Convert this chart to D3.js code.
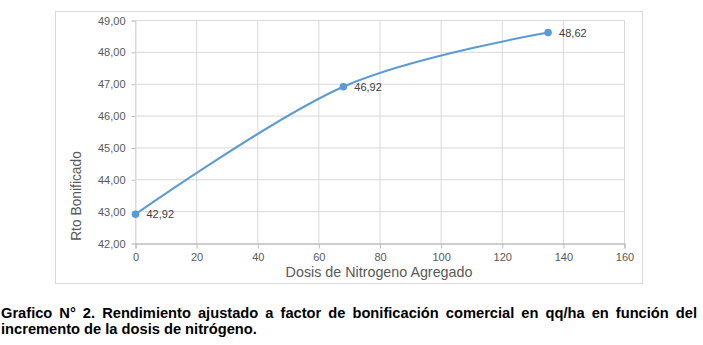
<!DOCTYPE html>
<html>
<head>
<meta charset="utf-8">
<script src="https://cdn.jsdelivr.net/npm/d3@7"></script>
<style>
  html, body { margin: 0; padding: 0; background: #fff; }
  svg { display: block; }
</style>
</head>
<body>
<svg id="chart" width="703" height="345"></svg>
<script>
// Nitrogen dose (kg N/ha) and adjusted yield (qq/ha)
const doses = [0, 68, 135];
const yields = [42.92, 46.92, 48.62];
const pointLabels = ["42,92", "46,92", "48,62"];
const xTicks = [0, 20, 40, 60, 80, 100, 120, 140, 160];
const yTicks = [42, 43, 44, 45, 46, 47, 48, 49];
const xTitle = "Dosis de Nitrogeno Agregado";
const yTitle = "Rto Bonificado";
const captionLines = [
  "Grafico N° 2. Rendimiento ajustado a factor de bonificación comercial en qq/ha en función del",
  "incremento de la dosis de nitrógeno."
];

const svg = d3.select("#chart");
const axisFont = "'Liberation Sans', Arial, sans-serif";
const textGray = "#595959";

// chart frame
svg.append("rect")
  .attr("x", 55.5).attr("y", 11.5)
  .attr("width", 587).attr("height", 272)
  .attr("fill", "#fff").attr("stroke", "#d9d9d9").attr("stroke-width", 1);

const x = d3.scaleLinear().domain([0, 160]).range([135.5, 624.5]);
const y = d3.scaleLinear().domain([42, 49]).range([243.5, 20.5]);

// gridlines
const grid = svg.append("g").attr("stroke", "#d9d9d9").attr("stroke-width", 1);
grid.selectAll("line.h").data(yTicks.slice(1)).join("line")
  .attr("x1", x(0)).attr("x2", x(160))
  .attr("y1", d => y(d)).attr("y2", d => y(d));
grid.selectAll("line.v").data(xTicks).join("line")
  .attr("x1", d => x(d)).attr("x2", d => x(d))
  .attr("y1", y(42)).attr("y2", y(49));

// y axis (ticks and labels)
const yAxis = svg.append("g")
  .attr("transform", `translate(${x(0)},0)`)
  .call(d3.axisLeft(y).tickValues(yTicks).tickSize(4).tickPadding(6)
    .tickFormat(d => d3.format(".2f")(d).replace(".", ",")));
yAxis.select(".domain").attr("stroke", "#d9d9d9");
yAxis.selectAll(".tick line").attr("stroke", "#bfbfbf");
yAxis.selectAll(".tick text")
  .attr("fill", textGray).attr("font-family", axisFont).attr("font-size", 11);

// x axis
const xAxis = svg.append("g")
  .attr("transform", `translate(0,${y(42)})`)
  .call(d3.axisBottom(x).tickValues(xTicks).tickSize(5).tickPadding(5)
    .tickFormat(d3.format("d")));
xAxis.select(".domain").attr("stroke", "#bfbfbf").attr("stroke-width", 1.3);
xAxis.selectAll(".tick line").attr("stroke", "#bfbfbf");
xAxis.selectAll(".tick text")
  .attr("fill", textGray).attr("font-family", axisFont).attr("font-size", 11);

// axis titles
svg.append("text")
  .attr("x", 379).attr("y", 277)
  .attr("text-anchor", "middle")
  .attr("fill", textGray).attr("font-family", axisFont).attr("font-size", 14.3)
  .text(xTitle);
svg.append("text")
  .attr("transform", "translate(81,196) rotate(-90)")
  .attr("text-anchor", "middle")
  .attr("fill", textGray).attr("font-family", axisFont).attr("font-size", 13.8)
  .text(yTitle);

// smoothed series line
const pts = doses.map((d, i) => [d, yields[i]]);
const line = d3.line()
  .x(d => x(d[0])).y(d => y(d[1]))
  .curve(d3.curveCardinal.tension(0));
svg.append("path")
  .datum(pts)
  .attr("d", line)
  .attr("fill", "none")
  .attr("stroke", "#5b9bd5")
  .attr("stroke-width", 2);

// markers
svg.selectAll("circle.pt").data(pts).join("circle")
  .attr("cx", d => x(d[0])).attr("cy", d => y(d[1]))
  .attr("r", 3.8).attr("fill", "#5b9bd5");

// data labels
svg.selectAll("text.lbl").data(pts).join("text")
  .attr("x", d => x(d[0]) + 11).attr("y", d => y(d[1]) + 4)
  .attr("fill", "#404040").attr("font-family", axisFont).attr("font-size", 11)
  .text((d, i) => pointLabels[i]);

// caption in a condensed bold face: horizontally squeezed so the second
// line keeps its width, the first line justified word by word
const capFont = "'Liberation Sans', Arial, sans-serif";
const capSize = 15.5;
const capLeft = 1, capRight = 697;
const line2Width = 256;
const capBase = [318, 334];

const cap = svg.append("g");
const probe = cap.append("text")
  .attr("font-family", capFont).attr("font-size", capSize).attr("font-weight", "bold")
  .text(captionLines[1]);
const sx = line2Width / probe.node().getComputedTextLength();
probe.remove();

const capStyle = sel => sel
  .attr("font-family", capFont).attr("font-size", capSize)
  .attr("font-weight", "bold").attr("fill", "#000");

// line 1: justified
{
  const words = captionLines[0].split(" ");
  const g = cap.append("g").attr("transform", `translate(${capLeft},${capBase[0]}) scale(${sx},1)`);
  const nodes = words.map(w => g.append("text").call(capStyle).attr("y", 0).text(w));
  const widths = nodes.map(n => n.node().getComputedTextLength());
  const span = (capRight - capLeft) / sx;
  const gap = (span - d3.sum(widths)) / (words.length - 1);
  let cx = 0;
  nodes.forEach((n, i) => { n.attr("x", cx); cx += widths[i] + gap; });
}
// line 2: left aligned
cap.append("g").attr("transform", `translate(${capLeft},${capBase[1]}) scale(${sx},1)`)
  .append("text").call(capStyle).attr("x", 0).attr("y", 0).text(captionLines[1]);
</script>
</body>
</html>
